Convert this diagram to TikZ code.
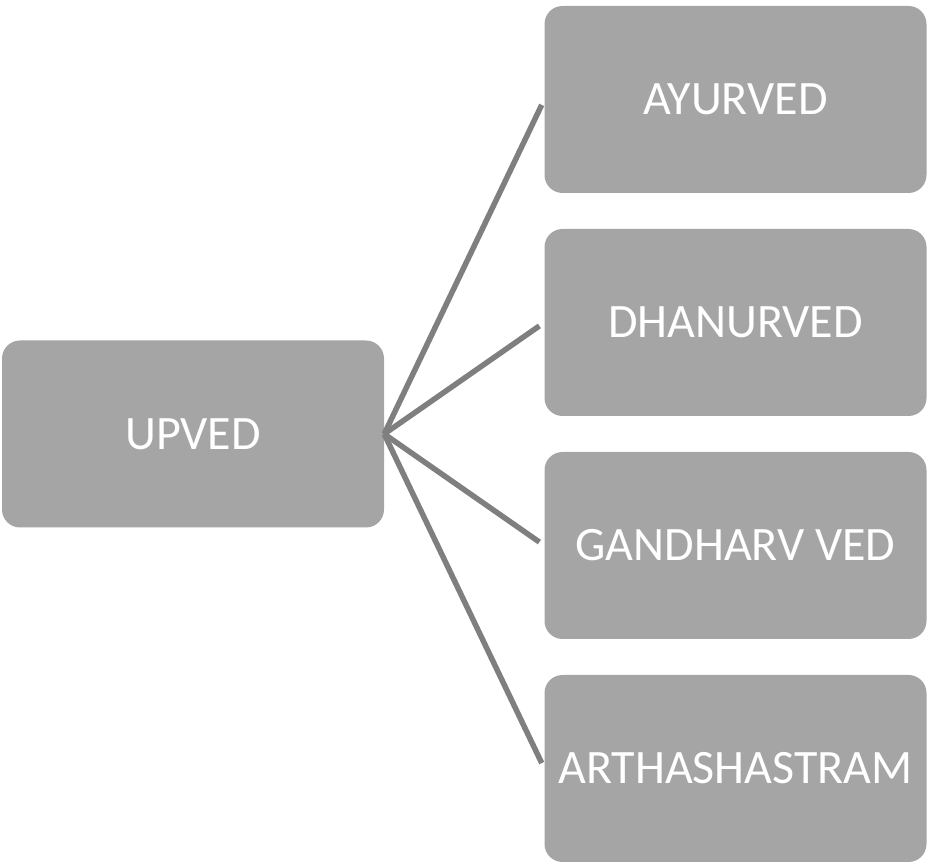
\documentclass[tikz,border=0pt]{standalone}
\usepackage{fontspec}
\setmainfont{Carlito}
\usepackage{tikz}
\usetikzlibrary{arrows}

\definecolor{boxgray}{HTML}{A5A5A5}
\definecolor{linegray}{HTML}{7F7F7F}

\begin{document}
\begin{tikzpicture}[x=1bp,y=1bp,
	vbox/.style={rectangle, rounded corners=18bp, fill=boxgray, text=white,
		minimum width=382bp, minimum height=187bp, inner sep=0pt,
		font=\fontsize{48bp}{54bp}\selectfont},
	link/.style={draw=linegray, line width=5.5bp, shorten >=6bp}]
	\useasboundingbox (0,0) rectangle (929,865);

	\node (up)   at (193bp,431bp)   [vbox] {UPVED};
	\node (ayur) at (735.5bp,765.5bp) [vbox] {AYURVED};
	\node (dhan) at (735.5bp,542.5bp) [vbox] {DHANURVED};
	\node (gand) at (735.5bp,319.5bp) [vbox] {GANDHARV VED};
	\node (arth) at (735.5bp,96.5bp)  [vbox] {ARTHASHASTRAM};

	\draw [link] (up.east) -- (ayur.west);
	\draw [link] (up.east) -- (dhan.west);
	\draw [link] (up.east) -- (gand.west);
	\draw [link] (up.east) -- (arth.west);
\end{tikzpicture}
\end{document}
